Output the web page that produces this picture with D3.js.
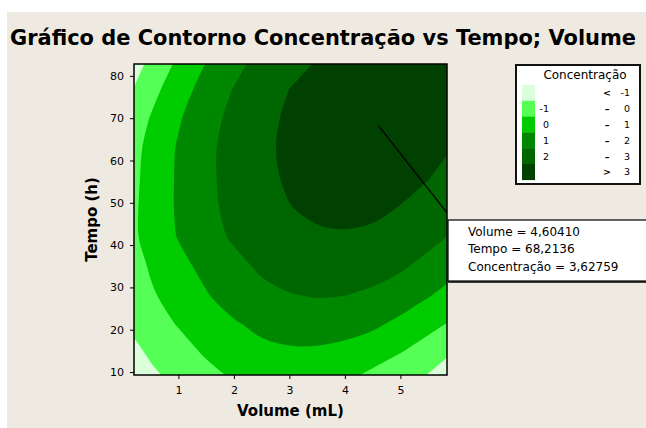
<!DOCTYPE html>
<html lang="pt">
<head>
<meta charset="utf-8">
<script src="https://cdn.jsdelivr.net/npm/d3@7"></script>
<style>
  body { margin: 0; background: #fff; }
  svg text { font-family: "DejaVu Sans", sans-serif; fill: #000; }
</style>
</head>
<body>
<div id="contorno"></div>
<script>
// grade da superfície (linhas = tempo, colunas = volume)
const volume = [0, 0.5, 1, 1.5, 2, 2.5, 3, 3.5, 4, 4.5, 5, 5.5, 6];
const tempo = [7, 14, 21, 28, 35, 42, 49, 56, 63, 70, 77, 84];
const concentracao = [
  [-1.75, -1.28, -0.86, -0.46, -0.06, 0.11, 0.15, 0.11, -0.06, -0.45, -0.84, -1.26, -1.68],
  [-1.45, -0.91, -0.42, 0.07, 0.45, 0.70, 0.81, 0.79, 0.64, 0.36, -0.05, -0.58, -1.11],
  [-0.98, -0.46, 0.04, 0.46, 0.88, 1.21, 1.40, 1.45, 1.36, 1.14, 0.74, 0.28, -0.25],
  [-0.75, -0.13, 0.40, 0.93, 1.40, 1.74, 1.95, 2.04, 2.00, 1.82, 1.50, 1.05, 0.57],
  [-0.65, 0.10, 0.73, 1.26, 1.74, 2.15, 2.39, 2.51, 2.51, 2.39, 2.14, 1.71, 1.24],
  [-0.46, 0.35, 1.05, 1.64, 2.12, 2.49, 2.74, 2.88, 2.92, 2.84, 2.65, 2.30, 1.85],
  [-0.48, 0.38, 1.12, 1.76, 2.28, 2.69, 2.98, 3.17, 3.24, 3.19, 2.98, 2.70, 2.35],
  [-0.55, 0.34, 1.12, 1.79, 2.35, 2.79, 3.11, 3.33, 3.42, 3.41, 3.28, 3.03, 2.68],
  [-0.64, 0.28, 1.09, 1.78, 2.36, 2.82, 3.17, 3.40, 3.52, 3.53, 3.44, 3.28, 3.00],
  [-0.92, 0.05, 0.90, 1.64, 2.25, 2.75, 3.13, 3.39, 3.53, 3.56, 3.48, 3.32, 3.05],
  [-1.39, -0.35, 0.57, 1.36, 2.03, 2.58, 3.00, 3.30, 3.47, 3.52, 3.46, 3.30, 3.05],
  [-1.91, -0.83, 0.13, 0.96, 1.66, 2.24, 2.70, 3.03, 3.23, 3.31, 3.27, 3.22, 3.05]
];
const niveis = [-1, 0, 1, 2, 3];
const ticksVolume = [1, 2, 3, 4, 5];
const ticksTempo = [10, 20, 30, 40, 50, 60, 70, 80];

// ponto marcado
const pontoVolume = 4.60410;
const pontoTempo = 68.2136;
const pontoConc = 3.62759;

const cores = ["#DAFFDA", "#55FF55", "#00CC00", "#008800", "#006600", "#004000"];

const width = 646, height = 428;
const plot = {left: 134, right: 447, top: 64, bottom: 375};

const svg = d3.select("#contorno")
    .append("svg")
    .attr("width", width)
    .attr("height", height);

// fundo
svg.append("rect")
    .attr("x", 7).attr("y", 12)
    .attr("width", width - 7).attr("height", height - 12)
    .attr("fill", "#EEEAE1");

// título
svg.append("text")
    .attr("x", 10).attr("y", 45)
    .attr("font-size", 21)
    .attr("font-weight", "bold")
    .attr("textLength", 626)
    .attr("lengthAdjust", "spacingAndGlyphs")
    .text("Gráfico de Contorno Concentração vs Tempo; Volume");

const x = d3.scaleLinear()
    .domain([0.2, 5.84])
    .range([plot.left, plot.right]);

const y = d3.scaleLinear()
    .domain([9.3, 82.8])
    .range([plot.bottom, plot.top]);

// coordenadas da grade -> pixels
const nx = volume.length, ny = tempo.length;
const gx = d3.scaleLinear().domain([0.5, nx - 0.5]).range([x(volume[0]), x(volume[nx - 1])]);
const gy = d3.scaleLinear().domain([0.5, ny - 0.5]).range([y(tempo[0]), y(tempo[ny - 1])]);

const contornos = d3.contours()
    .size([nx, ny])
    .thresholds(niveis)(concentracao.flat());

// anéis suavizados
const linha = d3.line().curve(d3.curveCatmullRomClosed.alpha(0.5));
function caminho(c) {
    return c.coordinates.map(poligono =>
        poligono.map(anel => linha(anel.slice(0, -1).map(p => [gx(p[0]), gy(p[1])]))).join("")
    ).join("");
}

svg.append("clipPath")
    .attr("id", "area")
    .append("rect")
    .attr("x", plot.left).attr("y", plot.top)
    .attr("width", plot.right - plot.left)
    .attr("height", plot.bottom - plot.top);

const g = svg.append("g").attr("clip-path", "url(#area)");

g.append("rect")
    .attr("x", plot.left).attr("y", plot.top)
    .attr("width", plot.right - plot.left)
    .attr("height", plot.bottom - plot.top)
    .attr("fill", cores[0]);

g.selectAll("path.faixa")
    .data(contornos)
    .enter()
    .append("path")
    .attr("class", "faixa")
    .attr("d", caminho)
    .attr("fill-rule", "evenodd")
    .attr("fill", (d, i) => cores[i + 1]);

// linha até a caixa de anotação
const caixa = {x: 448, y: 220, w: 215, h: 61};
g.append("line")
    .attr("x1", x(pontoVolume)).attr("y1", y(pontoTempo))
    .attr("x2", caixa.x).attr("y2", caixa.y - 6)
    .attr("stroke", "#000")
    .attr("stroke-width", 1.3);

// moldura
svg.append("rect")
    .attr("x", plot.left).attr("y", plot.top)
    .attr("width", plot.right - plot.left)
    .attr("height", plot.bottom - plot.top)
    .attr("fill", "none")
    .attr("stroke", "#000")
    .attr("stroke-width", 1.5);

// eixos
svg.append("g")
    .attr("transform", `translate(0,${plot.bottom})`)
    .call(d3.axisBottom(x).tickValues(ticksVolume).tickFormat(d3.format("d")).tickSize(4).tickPadding(7))
    .call(a => a.select(".domain").remove())
    .call(a => a.selectAll("text").attr("font-size", 11))
    .call(a => a.selectAll("line").attr("stroke", "#000"));

svg.append("g")
    .attr("transform", `translate(${plot.left},0)`)
    .call(d3.axisLeft(y).tickValues(ticksTempo).tickFormat(d3.format("d")).tickSize(4).tickPadding(6))
    .call(a => a.select(".domain").remove())
    .call(a => a.selectAll("text").attr("font-size", 11))
    .call(a => a.selectAll("line").attr("stroke", "#000"));

// rótulos dos eixos
svg.append("text")
    .attr("x", (plot.left + plot.right) / 2)
    .attr("y", 416)
    .attr("text-anchor", "middle")
    .attr("font-size", 15)
    .attr("font-weight", "bold")
    .text("Volume (mL)");

svg.append("text")
    .attr("x", -(plot.top + plot.bottom) / 2)
    .attr("y", 97)
    .attr("transform", "rotate(-90)")
    .attr("text-anchor", "middle")
    .attr("font-size", 15)
    .attr("font-weight", "bold")
    .text("Tempo (h)");

// caixa de anotação
const br = d3.formatLocale({decimal: ",", thousands: ".", grouping: [3], currency: ["R$", ""]});
svg.append("rect")
    .attr("x", caixa.x).attr("y", caixa.y)
    .attr("width", caixa.w).attr("height", caixa.h)
    .attr("fill", "#fff")
    .attr("stroke", "#000")
    .attr("stroke-width", 1.2);
svg.append("line")
    .attr("x1", caixa.x).attr("x2", caixa.x + caixa.w)
    .attr("y1", caixa.y + caixa.h + 1).attr("y2", caixa.y + caixa.h + 1)
    .attr("stroke", "#000").attr("stroke-width", 1.5);

const linhasCaixa = [
    "Volume = " + br.format(".5f")(pontoVolume),
    "Tempo = " + br.format(".4f")(pontoTempo),
    "Concentração = " + br.format(".5f")(pontoConc)
];
svg.selectAll("text.anot")
    .data(linhasCaixa)
    .enter()
    .append("text")
    .attr("class", "anot")
    .attr("x", 468)
    .attr("y", (d, i) => 236 + i * 17.4)
    .attr("font-size", 12)
    .text(d => d);

// legenda
const leg = {x: 516, y: 65, w: 124, h: 119};
svg.append("rect")
    .attr("x", leg.x).attr("y", leg.y)
    .attr("width", leg.w).attr("height", leg.h)
    .attr("fill", "#fff")
    .attr("stroke", "#111")
    .attr("stroke-width", 2);

svg.append("text")
    .attr("x", 585).attr("y", 79)
    .attr("text-anchor", "middle")
    .attr("font-size", 12)
    .text("Concentração");

const faixas = cores.map((c, i) => ({
    cor: c,
    de: i === 0 ? "" : (i === cores.length - 1 ? "" : String(niveis[i - 1])),
    sinal: i === 0 ? "<" : (i === cores.length - 1 ? ">" : "–"),
    ate: i === cores.length - 1 ? String(niveis[i - 1]) : String(niveis[i])
}));
const hFaixa = 15.8;

const itens = svg.selectAll("g.item")
    .data(faixas)
    .enter()
    .append("g")
    .attr("class", "item")
    .attr("transform", (d, i) => `translate(0,${85 + i * hFaixa})`);

itens.append("rect")
    .attr("x", 522).attr("y", 0)
    .attr("width", 13).attr("height", hFaixa + 0.3)
    .attr("fill", d => d.cor);

itens.append("text")
    .attr("x", 549).attr("y", hFaixa / 2 + 3.5)
    .attr("text-anchor", "end")
    .attr("font-size", 9.5)
    .text(d => d.de);

itens.append("text")
    .attr("x", 607).attr("y", hFaixa / 2 + 3.5)
    .attr("text-anchor", "middle")
    .attr("font-size", 9.5)
    .attr("font-weight", "bold")
    .text(d => d.sinal);

itens.append("text")
    .attr("x", 630).attr("y", hFaixa / 2 + 3.5)
    .attr("text-anchor", "end")
    .attr("font-size", 9.5)
    .text(d => d.ate);
</script>
</body>
</html>
